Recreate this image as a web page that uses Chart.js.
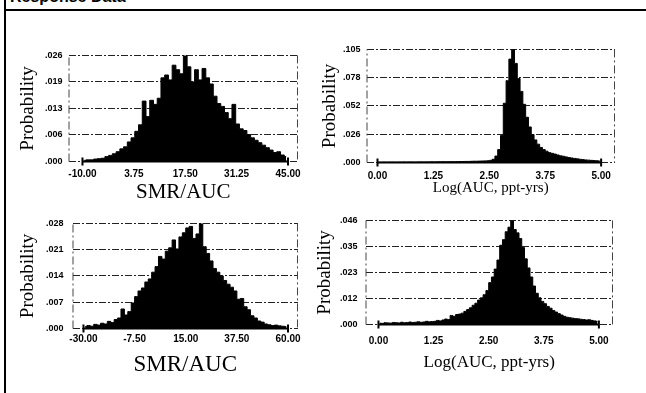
<!DOCTYPE html>
<html>
<head>
<meta charset="utf-8">
<script src="https://cdn.jsdelivr.net/npm/chart.js@4.4.1/dist/chart.umd.min.js"></script>
<style>
  body { margin: 0; width: 646px; height: 393px; background: #fff; position: relative; overflow: hidden; }
  #head { position: absolute; left: 10px; top: -12px; line-height: 16px; font: bold 16px 'Liberation Sans', Arial, sans-serif; color: #000; white-space: nowrap; }
  #frameTop { position: absolute; left: 4px; top: 9px; width: 642px; border-top: 2px solid #000; }
  #frameLeft { position: absolute; left: 4px; top: 0; height: 393px; border-left: 2px solid #000; }
  canvas { position: absolute; }
</style>
</head>
<body>
<div id="head">Response Data</div>
<div id="frameTop"></div>
<div id="frameLeft"></div>
<canvas id="c1"></canvas>
<canvas id="c2"></canvas>
<canvas id="c3"></canvas>
<canvas id="c4"></canvas>
<script>
'use strict'

// top left: SMR/AUC, bins of 1.0 starting at -10
const smrTopStart = -10
const smrTopBin = 1
const smrTopProb = [
  0.0003, 0.0004, 0.0004, 0.0006, 0.0007, 0.0008, 0.0012, 0.0015, 0.0019, 0.0024,
  0.0031, 0.0036, 0.0048, 0.0058, 0.0074, 0.0090, 0.0148, 0.0110, 0.0150, 0.0140,
  0.0155, 0.0205, 0.0212, 0.0200, 0.0236, 0.0225, 0.0215, 0.0260, 0.0232, 0.0195,
  0.0225, 0.0200, 0.0228, 0.0205, 0.0190, 0.0160, 0.0142, 0.0135, 0.0120, 0.0105,
  0.0140, 0.0092, 0.0080, 0.0076, 0.0066, 0.0058, 0.0052, 0.0046, 0.0040, 0.0034,
  0.0028, 0.0022, 0.0024, 0.0016, 0.0012
]
const smrTopXTicks = [-10, 3.75, 17.5, 31.25, 45]
const smrTopXLabels = ['-10.00', '3.75', '17.50', '31.25', '45.00']
const smrTopYTicks = [0, 0.0065, 0.013, 0.0195, 0.026]
const smrTopYLabels = ['.000', '.006', '.013', '.019', '.026']

// top right: Log(AUC), bins of 0.0625 starting at 0
const logTopStart = 0
const logTopBin = 0.0625
const logTopProb = [
  0.0002, 0.0002, 0.0003, 0.0002, 0.0003, 0.0003, 0.0002, 0.0003, 0.0003, 0.0004,
  0.0003, 0.0004, 0.0004, 0.0003, 0.0004, 0.0005, 0.0004, 0.0005, 0.0005, 0.0006,
  0.0005, 0.0006, 0.0006, 0.0007, 0.0006, 0.0007, 0.0008, 0.0007, 0.0008, 0.0009,
  0.0009, 0.0010, 0.0010, 0.0011, 0.0012, 0.0012, 0.0013, 0.0014, 0.0015, 0.0016,
  0.0020, 0.0030, 0.0060, 0.0120, 0.0250, 0.0550, 0.0760, 0.0960, 0.1050, 0.0920,
  0.0780, 0.0660, 0.0540, 0.0420, 0.0330, 0.0260, 0.0210, 0.0170, 0.0140, 0.0120,
  0.0105, 0.0092, 0.0085, 0.0078, 0.0070, 0.0062, 0.0058, 0.0052, 0.0046, 0.0042,
  0.0038, 0.0034, 0.0030, 0.0027, 0.0024, 0.0022, 0.0020, 0.0018, 0.0016, 0.0015
]
const logTopXTicks = [0, 1.25, 2.5, 3.75, 5]
const logTopXLabels = ['0.00', '1.25', '2.50', '3.75', '5.00']
const logTopYTicks = [0, 0.02625, 0.0525, 0.07875, 0.105]
const logTopYLabels = ['.000', '.026', '.052', '.078', '.105']

// bottom left: SMR/AUC, bins of 1.5 starting at -30
const smrBotStart = -30
const smrBotBin = 1.5
const smrBotProb = [
  0.0005, 0.0008, 0.0006, 0.0011, 0.0009, 0.0014, 0.0012, 0.0019, 0.0016, 0.0024,
  0.0028, 0.0052, 0.0036, 0.0045, 0.0068, 0.0085, 0.0100, 0.0108, 0.0124, 0.0132,
  0.0150, 0.0165, 0.0192, 0.0185, 0.0206, 0.0215, 0.0236, 0.0212, 0.0244, 0.0255,
  0.0268, 0.0272, 0.0240, 0.0252, 0.0280, 0.0218, 0.0200, 0.0180, 0.0160, 0.0150,
  0.0140, 0.0128, 0.0118, 0.0110, 0.0100, 0.0078, 0.0080, 0.0058, 0.0050, 0.0034,
  0.0028, 0.0020, 0.0017, 0.0012, 0.0010, 0.0008, 0.0009, 0.0007, 0.0006, 0.0005
]
const smrBotXTicks = [-30, -7.5, 15, 37.5, 60]
const smrBotXLabels = ['-30.00', '-7.50', '15.00', '37.50', '60.00']
const smrBotYTicks = [0, 0.007, 0.014, 0.021, 0.028]
const smrBotYLabels = ['.000', '.007', '.014', '.021', '.028']

// bottom right: Log(AUC), bins of 0.0625 starting at 0
const logBotStart = 0
const logBotBin = 0.0625
const logBotProb = [
  0.0006, 0.0005, 0.0008, 0.0007, 0.0006, 0.0009, 0.0008, 0.0007, 0.0010, 0.0008,
  0.0009, 0.0011, 0.0009, 0.0010, 0.0012, 0.0010, 0.0011, 0.0014, 0.0012, 0.0013,
  0.0014, 0.0018, 0.0016, 0.0020, 0.0024, 0.0022, 0.0040, 0.0036, 0.0044, 0.0046,
  0.0050, 0.0058, 0.0066, 0.0074, 0.0085, 0.0094, 0.0108, 0.0118, 0.0132, 0.0150,
  0.0185, 0.0210, 0.0245, 0.0285, 0.0350, 0.0375, 0.0410, 0.0430, 0.0458, 0.0420,
  0.0405, 0.0380, 0.0340, 0.0290, 0.0250, 0.0210, 0.0170, 0.0138, 0.0118, 0.0102,
  0.0092, 0.0080, 0.0072, 0.0062, 0.0055, 0.0048, 0.0042, 0.0036, 0.0032, 0.0030,
  0.0028, 0.0026, 0.0025, 0.0023, 0.0022, 0.0020, 0.0021, 0.0018, 0.0016, 0.0014
]
const logBotXTicks = [0, 1.25, 2.5, 3.75, 5]
const logBotXLabels = ['0.00', '1.25', '2.50', '3.75', '5.00']
const logBotYTicks = [0, 0.0115, 0.023, 0.0345, 0.046]
const logBotYLabels = ['.000', '.012', '.023', '.035', '.046']

const serif = "'Liberation Serif', 'Times New Roman', serif"
const sans = "'Liberation Sans', Arial, sans-serif"

// dash-dot box edges, and the solid data axis with its end ticks
const framePlugin = {
  id: 'frame',
  beforeDatasetsDraw(chart) {
    const { ctx, chartArea: a } = chart
    ctx.save()
    ctx.strokeStyle = '#444'
    ctx.lineWidth = 1
    ctx.setLineDash([8, 3, 2, 3])
    ctx.beginPath()
    ctx.moveTo(a.left + 0.5, a.bottom)
    ctx.lineTo(a.left + 0.5, a.top)
    ctx.moveTo(a.right - 0.5, a.top)
    ctx.lineTo(a.right - 0.5, a.bottom)
    ctx.stroke()
    ctx.restore()
  },
  afterDatasetsDraw(chart) {
    const { ctx, chartArea: a, scales: { x } } = chart
    const ticks = x.ticks
    const x0 = x.getPixelForValue(ticks[0].value)
    const x1 = x.getPixelForValue(ticks[ticks.length - 1].value)
    ctx.save()
    ctx.strokeStyle = '#000'
    ctx.lineWidth = 2
    ctx.beginPath()
    ctx.moveTo(x0, a.bottom)
    ctx.lineTo(x1, a.bottom)
    ctx.moveTo(x0, a.bottom - 4)
    ctx.lineTo(x0, a.bottom + 4)
    ctx.moveTo(x1, a.bottom - 4)
    ctx.lineTo(x1, a.bottom + 4)
    ctx.stroke()
    ctx.restore()
  }
}

function panel(id, p) {
  const padTop = 10
  const padRight = 22
  const yW = p.box.l - p.yTitleX + 11.5
  const xH = p.xTitleDy + 2 + p.xTitleSize / 2
  const canvas = document.getElementById(id)
  canvas.width = yW + (p.box.r - p.box.l) + padRight
  canvas.height = padTop + (p.box.b - p.box.t) + xH
  canvas.style.left = (p.box.l - yW) + 'px'
  canvas.style.top = (p.box.t - padTop) + 'px'

  const points = p.values.map((v, i) => ({ x: p.start + p.bin * (i + 0.5), y: v }))

  return new Chart(canvas, {
    type: 'line',
    data: {
      datasets: [{
        data: points,
        stepped: 'middle',
        fill: 'origin',
        backgroundColor: '#000',
        borderColor: '#000',
        borderWidth: 1,
        pointRadius: 0
      }]
    },
    options: {
      responsive: false,
      animation: false,
      layout: { padding: { top: padTop, right: padRight, left: 0, bottom: 0 } },
      plugins: {
        legend: { display: false },
        tooltip: { enabled: false }
      },
      scales: {
        x: {
          type: 'linear',
          min: p.xMin,
          max: p.xMax,
          afterBuildTicks: s => { s.ticks = p.xTicks.map(v => ({ value: v })) },
          afterFit: s => { s.height = xH },
          grid: { display: false, drawTicks: false },
          border: { display: false },
          ticks: {
            autoSkip: false,
            maxRotation: 0,
            padding: p.xPad,
            color: '#000',
            font: { family: sans, size: 10, weight: 'bold' },
            callback: (v, i) => p.xLabels[i]
          },
          title: {
            display: true,
            text: p.xTitle,
            color: '#000',
            padding: { top: 0, bottom: 2 },
            font: { family: serif, size: p.xTitleSize, lineHeight: 1 }
          }
        },
        y: {
          min: 0,
          max: p.yTicks[p.yTicks.length - 1],
          afterBuildTicks: s => { s.ticks = p.yTicks.map(v => ({ value: v })) },
          afterFit: s => { s.width = yW },
          grid: { color: '#222', lineWidth: 1, drawTicks: false },
          border: { display: false, dash: [7, 2, 2, 2] },
          ticks: {
            padding: p.yPad,
            color: '#000',
            font: { family: sans, size: 9, weight: 'bold' },
            callback: (v, i) => p.yLabels[i]
          },
          title: {
            display: true,
            text: 'Probability',
            color: '#000',
            padding: { top: 2, bottom: 0 },
            font: { family: serif, size: 19, lineHeight: 1 }
          }
        }
      }
    },
    plugins: [framePlugin]
  })
}

panel('c1', {
  box: { l: 68, t: 54, r: 298, b: 162 },
  xMin: -13.74, xMax: 47.67,
  start: smrTopStart, bin: smrTopBin, values: smrTopProb,
  xTicks: smrTopXTicks, xLabels: smrTopXLabels,
  yTicks: smrTopYTicks, yLabels: smrTopYLabels,
  xTitle: 'SMR/AUC', xTitleSize: 21, xTitleDy: 31, xPad: 7,
  yTitleX: 28, yPad: 6
})

panel('c2', {
  box: { l: 366, t: 48, r: 615, b: 163 },
  xMin: -0.246, xMax: 5.31,
  start: logTopStart, bin: logTopBin, values: logTopProb,
  xTicks: logTopXTicks, xLabels: logTopXLabels,
  yTicks: logTopYTicks, yLabels: logTopYLabels,
  xTitle: 'Log(AUC, ppt-yrs)', xTitleSize: 15, xTitleDy: 26, xPad: 8,
  yTitleX: 330, yPad: 6
})

panel('c3', {
  box: { l: 72, t: 219, r: 298, b: 329 },
  xMin: -34.83, xMax: 64.39,
  start: smrBotStart, bin: smrBotBin, values: smrBotProb,
  xTicks: smrBotXTicks, xLabels: smrBotXLabels,
  yTicks: smrBotYTicks, yLabels: smrBotYLabels,
  xTitle: 'SMR/AUC', xTitleSize: 23, xTitleDy: 36, xPad: 5,
  yTitleX: 28, yPad: 9
})

panel('c4', {
  box: { l: 365, t: 217, r: 613, b: 325 },
  xMin: -0.294, xMax: 5.32,
  start: logBotStart, bin: logBotBin, values: logBotProb,
  xTicks: logBotXTicks, xLabels: logBotXLabels,
  yTicks: logBotYTicks, yLabels: logBotYLabels,
  xTitle: 'Log(AUC, ppt-yrs)', xTitleSize: 17, xTitleDy: 38, xPad: 11,
  yTitleX: 325, yPad: 8
})
</script>
</body>
</html>
